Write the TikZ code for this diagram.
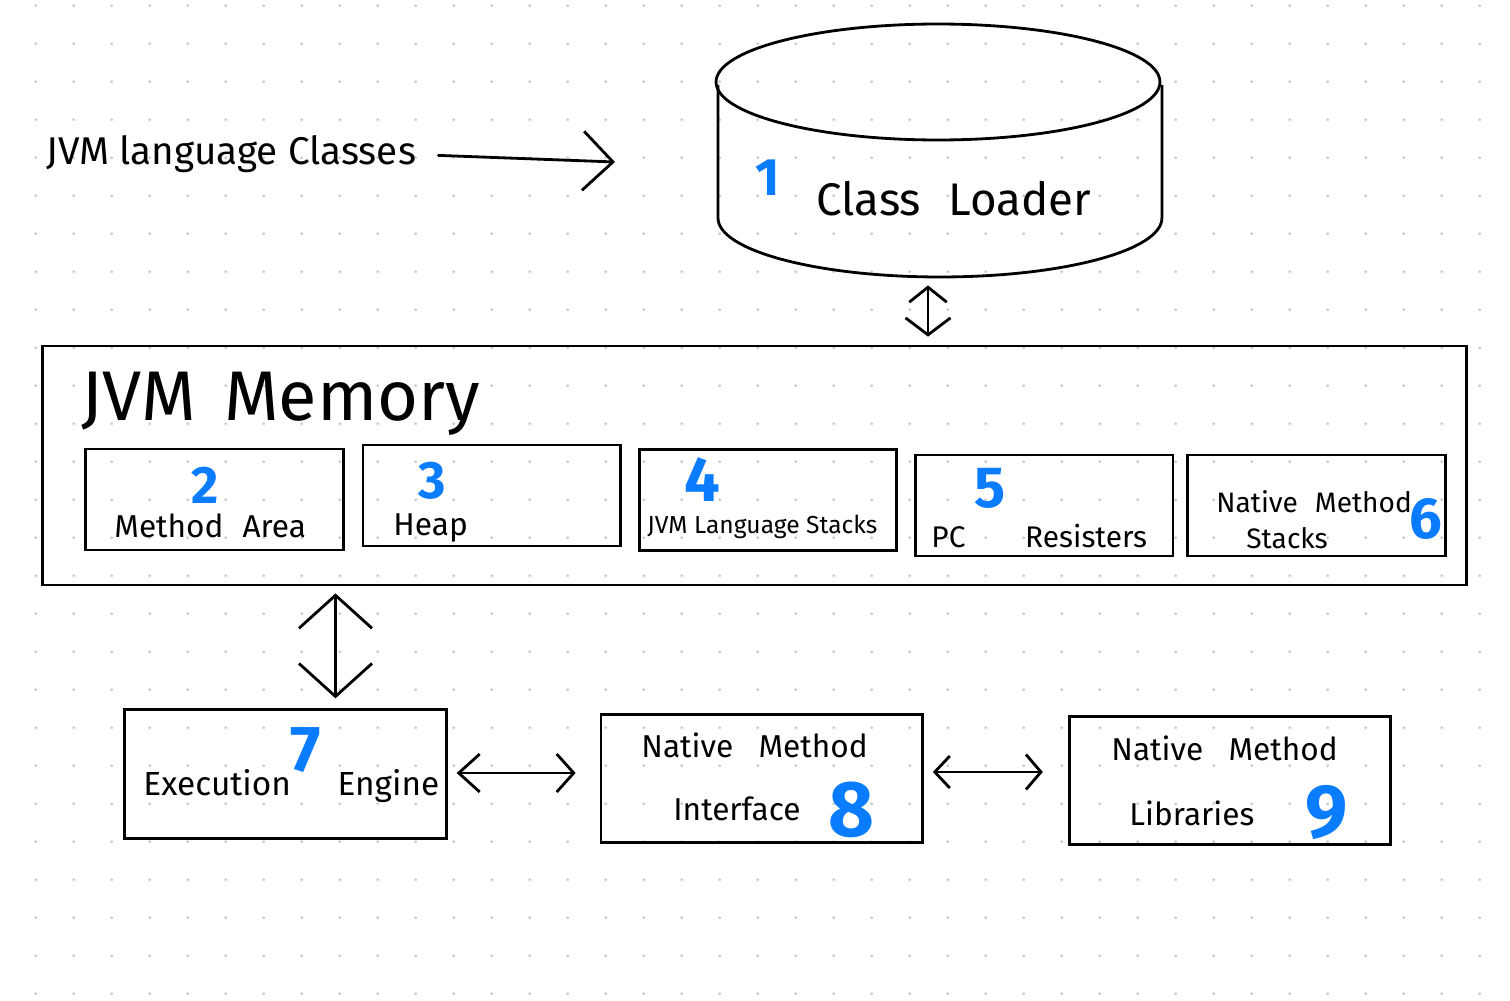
\documentclass[tikz,border=0pt]{standalone}
\usepackage{fontspec}
\setmainfont{Fira Sans}
\usetikzlibrary{arrows.meta, positioning}
\definecolor{numblue}{HTML}{0A7CFF}
\definecolor{dotgray}{HTML}{CCCCCC}

\begin{document}
\begin{tikzpicture}[
    x=0.02cm, y=-0.02cm,
    line width=1.6pt,
    box/.style={
        draw,
        minimum width=5.15cm,
        minimum height=2.02cm,
        inner sep=0pt
    },
    bigbox/.style={
        draw,
        minimum width=6.43cm,
        minimum height=2.57cm,
        inner sep=0pt
    },
    txt/.style={anchor=base west, inner sep=0pt, font=\fontsize{18}{18}\selectfont},
    num/.style={text=numblue, inner sep=0pt, font=\bfseries\fontsize{30}{30}\selectfont},
    arrow/.style={{Straight Barb[length=0.4cm, width=0.8cm]}-{Straight Barb[length=0.4cm, width=0.8cm]}, line cap=round, line join=round}
]
% background and dot grid
\fill[white] (0,0) rectangle (1510,1000);
\useasboundingbox (0,0) rectangle (1510,1000);
\foreach \i in {0,...,38}
    \foreach \j in {0,...,26}
        \fill[dotgray] (35.7+38*\i, 5.7+38*\j) circle[radius=0.032cm];

% input and class loader
\node[txt, font=\fontsize{22}{22}\selectfont] (classes) at (45,165) {JVM language Classes};
\coordinate (feed) at (615,162);
\draw[-{Straight Barb[length=0.6cm, width=1.18cm]}, line cap=round, line join=round, shorten <=0.42cm] (classes.east) -- (feed);

\node[minimum width=4.44cm, minimum height=5.08cm, inner sep=0pt] (loader) at (939,150) {};
\draw (938,82) ellipse [x radius=4.44cm, y radius=1.16cm];
\draw (718,85) -- (718,218) arc[start angle=180, end angle=360, x radius=4.44cm, y radius=1.18cm] -- (1162,85);
\node[num] (n1) at (768,178) {1};
\node[txt, font=\fontsize{26}{26}\selectfont] (loadertext) at (815,215) {Class\hspace{0.6em}Loader};

% JVM memory
\node[draw, minimum width=28.5cm, minimum height=4.78cm, inner sep=0pt] (memory) at (754.5,465.5) {};
\node[txt, font=\fontsize{40}{40}\selectfont] (memtitle) at (80,420) {JVM\hspace{0.4em}Memory};

\node[box] (method) at (214.5,499.5) {};
\node[box, right=0.34cm of method, yshift=0.08cm] (heap) {};
\node[box, right=0.32cm of heap, yshift=-0.09cm] (jvmstack) {};
\node[box, right=0.32cm of jvmstack, yshift=-0.11cm] (pc) {};
\node[box, right=0.24cm of pc] (nstack) {};

\node[txt] (methodtext) at (113,537) {Method\hspace{0.6em}Area};
\node[num] (n2) at (205,485) {2};
\node[txt] (heaptext) at (392,535) {Heap};
\node[num] (n3) at (432,481) {3};
\node[txt, font=\fontsize{14}{14}\selectfont] (jvmstacktext) at (646,533) {JVM Language Stacks};
\node[num, font=\bfseries\fontsize{36}{36}\selectfont] (n4) at (702,480) {4};
\node[txt, font=\fontsize{17}{17}\selectfont] (pctext) at (930,547) {PC\hspace{2em}Resisters};
\node[num, font=\bfseries\fontsize{33}{33}\selectfont] (n5) at (990,488) {5};
\node[txt, font=\fontsize{16}{16}\selectfont] (nstacktext) at (1215,512) {Native\hspace{0.6em}Method};
\node[txt, font=\fontsize{16}{16}\selectfont] (nstacktext2) at (1245,548) {Stacks};
\node[num, font=\bfseries\fontsize{33}{33}\selectfont] (n6) at (1426,519) {6};

% execution and native parts
\node[bigbox] (engine) at (285.5,774) {};
\node[bigbox, right=3.04cm of engine, yshift=-0.09cm] (nmi) {};
\node[bigbox, right=2.88cm of nmi, yshift=-0.04cm] (nml) {};

\node[txt, font=\fontsize{19}{19}\selectfont] (enginetext) at (142,795) {Execution\hspace{1.4em}Engine};
\node[num, font=\bfseries\fontsize{37}{37}\selectfont] (n7) at (306,750) {7};
\node[txt, font=\fontsize{18}{18}\selectfont] (nmitext) at (640,757) {Native\hspace{0.8em}Method};
\node[txt, font=\fontsize{18}{18}\selectfont] (nmitext2) at (672,820) {Interface};
\node[num, font=\bfseries\fontsize{45}{45}\selectfont] (n8) at (851,810) {8};
\node[txt, font=\fontsize{18}{18}\selectfont] (nmltext) at (1110,760) {Native\hspace{0.8em}Method};
\node[txt, font=\fontsize{18}{18}\selectfont] (nmltext2) at (1128,825) {Libraries};
\node[num, font=\bfseries\fontsize{43}{43}\selectfont] (n9) at (1327,812) {9};

% connectors
\draw[arrow, {Straight Barb[length=0.3cm, width=0.75cm]}-{Straight Barb[length=0.34cm, width=0.9cm]}, shorten <=0.14cm, shorten >=0.16cm]
    ([xshift=-0.22cm]loader.south) -- ([xshift=-0.22cm]loader.south |- memory.north);
\draw[arrow, {Straight Barb[length=0.66cm, width=1.46cm]}-{Straight Barb[length=0.66cm, width=1.46cm]}, shorten <=0.14cm, shorten >=0.2cm]
    ([xshift=1cm]engine.north |- memory.south) -- ([xshift=1cm]engine.north);
\draw[arrow, {Straight Barb[length=0.42cm, width=0.76cm]}-{Straight Barb[length=0.34cm, width=0.76cm]}, shorten <=0.18cm, shorten >=0.48cm]
    ([yshift=0.02cm]engine.east) -- ([yshift=0.02cm]engine.east -| nmi.west);
\draw[arrow, {Straight Barb[length=0.3cm, width=0.64cm]}-{Straight Barb[length=0.3cm, width=0.7cm]}, shorten <=0.18cm, shorten >=0.5cm]
    ([yshift=0.13cm]nmi.east) -- ([yshift=0.13cm]nmi.east -| nml.west);
\end{tikzpicture}
\end{document}
